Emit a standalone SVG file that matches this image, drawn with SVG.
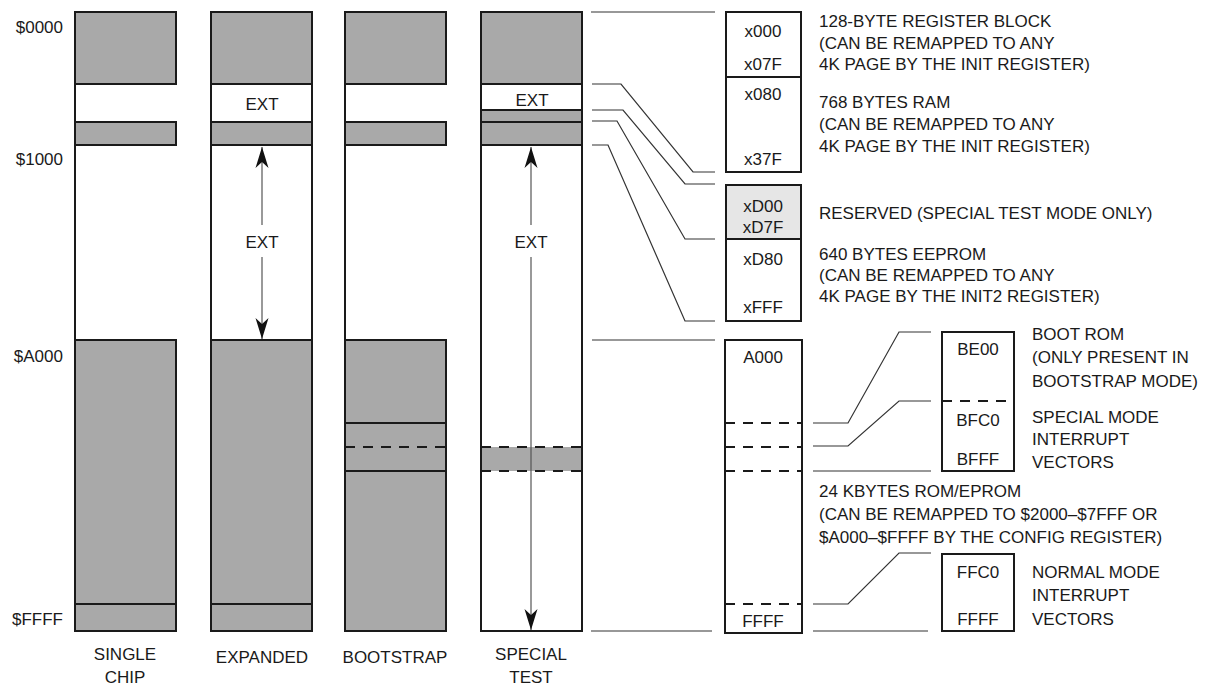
<svg xmlns="http://www.w3.org/2000/svg" width="1208" height="688" viewBox="0 0 1208 688">
<defs>
<style>
text{font-family:"Liberation Sans",Arial,sans-serif;font-size:17px;fill:#1a1a1a}
.m{text-anchor:middle}
.e{text-anchor:end}
.g{fill:#a9a9a9;stroke:#1a1a1a;stroke-width:2}
.w{fill:#fff;stroke:#1a1a1a;stroke-width:2}
.lg{fill:#e6e6e6;stroke:#1a1a1a;stroke-width:2}
.b{fill:none;stroke:#1a1a1a;stroke-width:2}
.d{fill:none;stroke:#1a1a1a;stroke-width:2;stroke-dasharray:10 8}
.c{fill:none;stroke:#333;stroke-width:1.2}
.a{fill:none;stroke:#555;stroke-width:1.2;marker-end:url(#ah)}
</style>
<marker id="ah" viewBox="-22 -7 24 14" refX="0" refY="0" markerWidth="24" markerHeight="14" markerUnits="userSpaceOnUse" orient="auto">
<path d="M0,0 L-21,-6.5 L-15,0 L-21,6.5 Z" fill="#111"/>
</marker>
</defs>
<rect width="1208" height="688" fill="#fff"/>

<g id="addr-labels">
<text class="e" x="63" y="33">$0000</text>
<text class="e" x="63" y="165">$1000</text>
<text class="e" x="63" y="362">$A000</text>
<text class="e" x="63" y="625">$FFFF</text>
</g>

<g id="single-chip">
<rect class="g" x="75" y="12" width="101" height="72"/>
<rect class="g" x="75" y="122" width="101" height="23"/>
<rect class="g" x="75" y="340" width="101" height="291"/>
<line class="b" x1="75" y1="604" x2="176" y2="604"/>
<line class="b" x1="75" y1="12" x2="75" y2="631"/>
<text class="m" x="125" y="660">SINGLE</text>
<text class="m" x="125" y="683">CHIP</text>
</g>

<g id="expanded">
<rect class="w" x="211" y="12" width="101" height="619"/>
<rect class="g" x="211" y="12" width="101" height="72"/>
<rect class="g" x="211" y="122" width="101" height="23"/>
<rect class="g" x="211" y="340" width="101" height="291"/>
<line class="b" x1="211" y1="604" x2="312" y2="604"/>
<text class="m" x="262" y="110">EXT</text>
<text class="m" x="262" y="248">EXT</text>
<text class="m" x="262" y="663">EXPANDED</text>
</g>

<g id="bootstrap">
<rect class="g" x="345" y="12" width="101" height="72"/>
<rect class="g" x="345" y="122" width="101" height="23"/>
<rect class="g" x="345" y="340" width="101" height="291"/>
<line class="b" x1="345" y1="423" x2="446" y2="423"/>
<line class="d" x1="345" y1="447" x2="446" y2="447"/>
<line class="b" x1="345" y1="471" x2="446" y2="471"/>
<line class="b" x1="345" y1="12" x2="345" y2="631"/>
<text class="m" x="395" y="663">BOOTSTRAP</text>
</g>

<g id="special-test">
<rect class="w" x="481" y="12" width="101" height="619"/>
<rect class="g" x="481" y="12" width="101" height="72"/>
<rect class="g" x="481" y="110" width="101" height="35"/>
<line class="b" x1="481" y1="122" x2="582" y2="122"/>
<rect x="481" y="447" width="101" height="24" fill="#a9a9a9"/>
<line class="d" x1="481" y1="447" x2="582" y2="447"/>
<line class="d" x1="481" y1="471" x2="582" y2="471"/>
<line class="b" x1="481" y1="12" x2="481" y2="631"/>
<line class="b" x1="582" y1="12" x2="582" y2="631"/>
<text class="m" x="532" y="106">EXT</text>
<text class="m" x="531" y="248">EXT</text>
<text class="m" x="531" y="660">SPECIAL</text>
<text class="m" x="531" y="683">TEST</text>
</g>

<g id="regs-box">
<rect class="w" x="726" y="12" width="75" height="65"/>
<text class="m" x="763" y="37">x000</text>
<text class="m" x="763" y="70">x07F</text>
<text x="819" y="27">128-BYTE REGISTER BLOCK</text>
<text x="819" y="49">(CAN BE REMAPPED TO ANY</text>
<text x="819" y="70">4K PAGE BY THE INIT REGISTER)</text>
</g>
<g id="ram-box">
<rect class="w" x="726" y="77" width="75" height="95"/>
<text class="m" x="763" y="100">x080</text>
<text class="m" x="763" y="165">x37F</text>
<text x="819" y="108">768 BYTES RAM</text>
<text x="819" y="130">(CAN BE REMAPPED TO ANY</text>
<text x="819" y="152">4K PAGE BY THE INIT REGISTER)</text>
</g>
<g id="reserved-box">
<rect class="lg" x="726" y="185" width="75" height="54"/>
<text class="m" x="763" y="212">xD00</text>
<text class="m" x="763" y="233">xD7F</text>
<text x="819" y="219">RESERVED (SPECIAL TEST MODE ONLY)</text>
</g>
<g id="eeprom-box">
<rect class="w" x="726" y="239" width="75" height="82"/>
<text class="m" x="763" y="265">xD80</text>
<text class="m" x="763" y="313">xFFF</text>
<text x="819" y="260">640 BYTES EEPROM</text>
<text x="819" y="281">(CAN BE REMAPPED TO ANY</text>
<text x="819" y="302">4K PAGE BY THE INIT2 REGISTER)</text>
</g>
<g id="rom-box">
<rect class="w" x="725" y="340" width="77" height="293"/>
<line class="d" x1="725" y1="423" x2="802" y2="423"/>
<line class="d" x1="725" y1="447" x2="802" y2="447"/>
<line class="d" x1="725" y1="471" x2="802" y2="471"/>
<line class="d" x1="725" y1="604" x2="802" y2="604"/>
<text class="m" x="763" y="363">A000</text>
<text class="m" x="763" y="627">FFFF</text>
<text x="819" y="497">24 KBYTES ROM/EPROM</text>
<text x="819" y="520">(CAN BE REMAPPED TO $2000–$7FFF OR</text>
<text x="819" y="543">$A000–$FFFF BY THE CONFIG REGISTER)</text>
</g>
<g id="boot-rom-box">
<rect class="w" x="942" y="332" width="72" height="139"/>
<line class="d" x1="942" y1="401" x2="1014" y2="401"/>
<text class="m" x="978" y="355">BE00</text>
<text class="m" x="978" y="426">BFC0</text>
<text class="m" x="978" y="465">BFFF</text>
<text x="1032" y="340">BOOT ROM</text>
<text x="1032" y="363">(ONLY PRESENT IN</text>
<text x="1032" y="387">BOOTSTRAP MODE)</text>
<text x="1032" y="423">SPECIAL MODE</text>
<text x="1032" y="445">INTERRUPT</text>
<text x="1032" y="468">VECTORS</text>
</g>
<g id="vectors-box">
<rect class="w" x="942" y="554" width="72" height="77"/>
<text class="m" x="978" y="578">FFC0</text>
<text class="m" x="978" y="625">FFFF</text>
<text x="1032" y="578">NORMAL MODE</text>
<text x="1032" y="601">INTERRUPT</text>
<text x="1032" y="625">VECTORS</text>
</g>

<g id="connectors">
<path class="a" d="M262,225 V147"/>
<path class="a" d="M262,257 V339"/>
<path class="a" d="M531,225 V147"/>
<path class="a" d="M531,257 V630"/>
<path class="c" d="M591,12 H715"/>
<path class="c" d="M592,84 H621 L693,172 H715"/>
<path class="c" d="M592,110 H623 L685,184 H715"/>
<path class="c" d="M592,121 H617 L685,239 H715"/>
<path class="c" d="M592,145 H608 L685,321 H715"/>
<path class="c" d="M592,340 H715"/>
<path class="c" d="M591,631 H712"/>
<path class="c" d="M813,423 H848 L899,332 H931"/>
<path class="c" d="M813,446 H848 L899,401 H931"/>
<path class="c" d="M813,471 H931"/>
<path class="c" d="M813,604 H848 L899,553 H931"/>
<path class="c" d="M813,631 H928"/>
</g>
</svg>
